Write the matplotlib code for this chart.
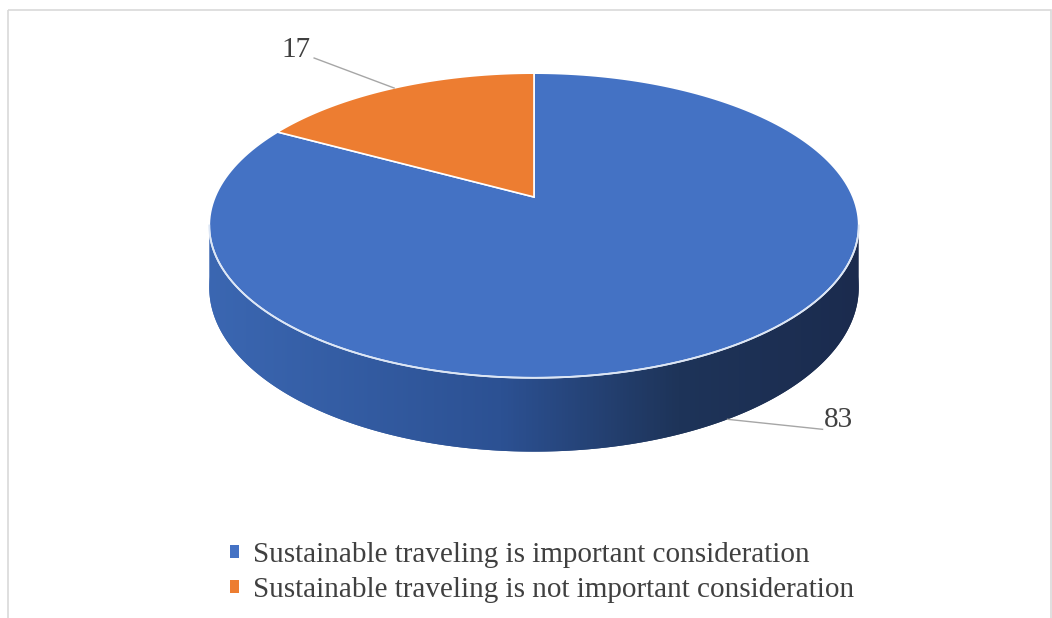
import numpy as np
import matplotlib.pyplot as plt
from matplotlib.patches import Polygon, Rectangle
from matplotlib.colors import LinearSegmentedColormap

# data
labels = ["Sustainable traveling is important consideration",
          "Sustainable traveling is not important consideration"]
values = [83, 17]
colors = ["#4472C4", "#ED7D31"]

plt.rcParams['font.family'] = ['Liberation Serif', 'DejaVu Serif']

# fake 3D pie geometry (pixel space, y grows downward)
x0, y0 = 534, 197      # pie centre on top face
A, B = 319, 147        # radii before perspective
k = 0.187              # perspective strength
depth = 60             # thickness of the pie


def project(theta, drop=0.0):
    u, v = np.cos(theta), np.sin(theta)
    w = 1 + k * v
    return x0 + A * u / w, y0 - B * v / w + drop / w


fig = plt.figure(figsize=(10.52, 6.18), dpi=100)
ax = fig.add_axes([0, 0, 1, 1])
ax.set_xlim(0, 1052)
ax.set_ylim(618, 0)
ax.axis('off')

# chart frame
ax.add_patch(Rectangle((7.5, 9.5), 1043, 620, fill=False, ec='#d9d9d9', lw=1.2))

# side wall of the pie (front half), gradient shaded
t_full = np.linspace(0, 2 * np.pi, 400)
bx, by = project(t_full, depth)
t_front = np.linspace(np.pi + np.arcsin(k), 2 * np.pi - np.arcsin(k), 300)
tx, ty = project(t_front)
sx, sy = project(t_front[::-1], depth)
side_pts = np.column_stack([np.r_[tx, sx], np.r_[ty, sy]])
side = Polygon(side_pts, closed=True, fc='none', ec='none')
bottom = Polygon(np.column_stack([bx, by]), closed=True, fc='none', ec='none')
ax.add_patch(side)
ax.add_patch(bottom)

cmap = LinearSegmentedColormap.from_list(
    'side', [(0, '#3b67b2'), (0.45, '#2c5193'), (0.72, '#1e3459'), (1, '#1b2b4e')])
grad = np.linspace(0, 1, 256).reshape(1, -1)
xmin, xmax = x0 - A * 1.03, x0 + A * 1.03
for patch in (side, bottom):
    im = ax.imshow(grad, cmap=cmap, extent=(xmin, xmax, 470, 200),
                   aspect='auto', zorder=1)
    im.set_clip_path(patch)

# top face wedges, clockwise from 12 o'clock
fractions = np.array(values) / np.sum(values)
bounds = np.r_[0, np.cumsum(fractions)]
wedges = []
for i, (f0, f1) in enumerate(zip(bounds[:-1], bounds[1:])):
    t = np.pi / 2 - 2 * np.pi * np.linspace(f0, f1, 200)
    px, py = project(t)
    pts = np.column_stack([np.r_[x0, px], np.r_[y0, py]])
    wp = Polygon(pts, closed=True, fc=colors[i], ec='white', lw=1.2, zorder=3)
    ax.add_patch(wp)
    wedges.append(wp)

# light rim between top face and wall
ax.plot(tx, ty, color='#dce6f5', lw=1.3, zorder=4)

# data labels with leader lines
mid_o = np.pi / 2 - 2 * np.pi * (bounds[1] + fractions[1] / 2)
ox, oy = project(mid_o)
ax.plot([ox, ox - 80], [oy, oy - 30], color='#a6a6a6', lw=1, zorder=5)
ax.text(ox - 84, oy - 38, str(values[1]), ha='right', va='center',
        fontsize=21, color='#404040')

mid_b = np.pi / 2 - 2 * np.pi * (fractions[0] / 2)
bxm, bym = project(mid_b, depth)
ax.plot([bxm, bxm + 95], [bym, bym + 10], color='#a6a6a6', lw=1, zorder=5)
ax.text(bxm + 96, bym + 1, str(values[0]), ha='left', va='center',
        fontsize=21, color='#404040')

# legend
leg = ax.legend(wedges, labels, loc='upper left', bbox_to_anchor=(230, 542),
                bbox_transform=ax.transData, frameon=False, fontsize=21,
                handlelength=0.3, handleheight=0.3, handletextpad=0.5,
                labelspacing=0.32, borderpad=0, borderaxespad=0)
for h in leg.legend_handles:
    h.set_edgecolor('none')
for t in leg.get_texts():
    t.set_color('#404040')

fig.savefig('out.png', dpi=100)
